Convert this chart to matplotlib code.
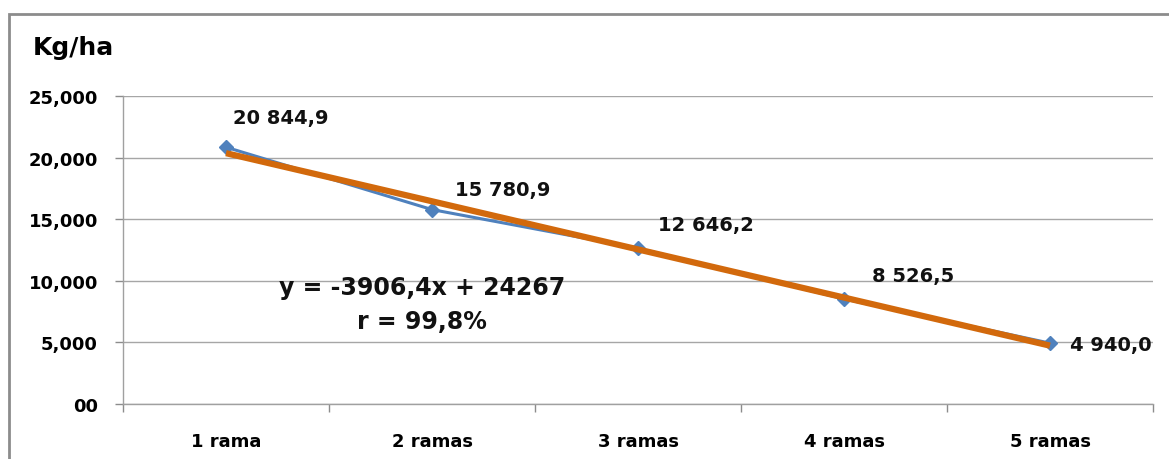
import matplotlib.pyplot as plt
from matplotlib.patches import Rectangle
from matplotlib.ticker import FixedLocator

# rendimiento por número de ramas
categorias = ['1 rama', '2 ramas', '3 ramas', '4 ramas', '5 ramas']
rendimiento = [20844.9, 15780.9, 12646.2, 8526.5, 4940.0]
etiquetas = ['20 844,9', '15 780,9', '12 646,2', '8 526,5', '4 940,0']

# recta de ajuste y = a*x + b (x = 1..5)
pendiente = -3906.4
intercepto = 24267
texto_ecuacion = 'y = -3906,4x + 24267\nr = 99,8%'

y_ticks = [0, 5000, 10000, 15000, 20000, 25000]
y_tick_labels = ['00', '5,000', '10,000', '15,000', '20,000', '25,000']

plt.rcParams['font.family'] = 'DejaVu Sans'
plt.rcParams['font.weight'] = 'bold'

fig = plt.figure(figsize=(11.69, 4.6), dpi=100)
ax = fig.add_axes([123 / 1169, 1 - 405 / 460, (1153 - 123) / 1169, (405 - 97) / 460])

# marco del gráfico
fig.patches.append(Rectangle((9 / 1169, -0.1), 1.2, 1 - 15 / 460 + 0.1,
                             transform=fig.transFigure, fill=False,
                             edgecolor='#8c8c8c', linewidth=2))

x = list(range(len(categorias)))
ajuste = [pendiente * (i + 1) + intercepto for i in x]

ax.plot(x, rendimiento, color='#4F81BD', linewidth=2.2, marker='D',
        markersize=7, zorder=3)
ax.plot(x, ajuste, color='#D2690C', linewidth=4.5, solid_capstyle='butt', zorder=4)

# posición de las etiquetas respecto a cada punto (px)
desplazamientos = [(7, 30), (23, 20), (20, 24), (28, 23), (20, -1)]
for xi, yi, txt, (dx, dy) in zip(x, rendimiento, etiquetas, desplazamientos):
    ax.annotate(txt, (xi, yi), xytext=(dx, dy), textcoords='offset pixels',
                ha='left', va='center', fontsize=14, fontweight='bold',
                color='#111111', zorder=5)

ax.text(0.29, 0.325, texto_ecuacion, transform=ax.transAxes,
        ha='center', va='center', fontsize=17, fontweight='bold',
        linespacing=1.5, color='#111111')

ax.set_xlim(-0.5, 4.5)
ax.set_ylim(0, 25000)
ax.set_yticks(y_ticks)
ax.set_yticklabels(y_tick_labels)
ax.set_xticks(x)
ax.set_xticklabels(categorias)
ax.xaxis.set_minor_locator(FixedLocator([i - 0.5 for i in range(len(categorias) + 1)]))

ax.tick_params(axis='y', length=6, width=1, color='#8c8c8c', pad=12,
               labelsize=13)
ax.tick_params(axis='x', which='major', length=0, pad=20, labelsize=13)
ax.tick_params(axis='x', which='minor', length=6, width=1, color='#8c8c8c')
for lbl in ax.get_xticklabels() + ax.get_yticklabels():
    lbl.set_fontweight('bold')

ax.grid(axis='y', color='#a6a6a6', linewidth=1)
ax.set_axisbelow(True)
for s in ['top', 'right']:
    ax.spines[s].set_visible(False)
for s in ['left', 'bottom']:
    ax.spines[s].set_color('#a0a0a0')
    ax.spines[s].set_linewidth(1)

fig.text(33 / 1169, 1 - 48 / 460, 'Kg/ha', ha='left', va='center',
         fontsize=18, fontweight='bold')

fig.savefig('out.png', dpi=100)
